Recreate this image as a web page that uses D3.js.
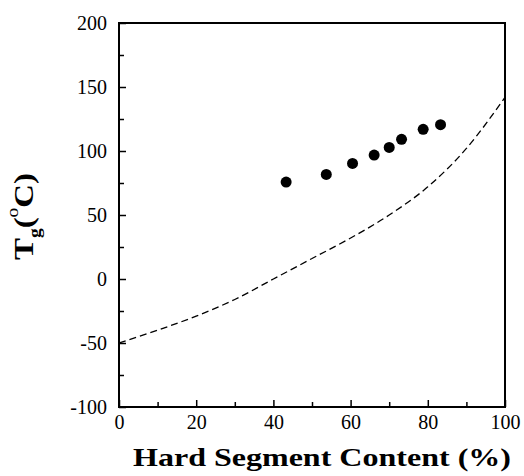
<!DOCTYPE html>
<html>
<head>
<meta charset="utf-8">
<script src="https://cdn.jsdelivr.net/npm/d3@7"></script>
<style>
  body { margin: 0; background: #fff; }
  svg { display: block; }
</style>
</head>
<body>
<div id="chart"></div>
<script>
// measured Tg of the samples
const hardContent = [43.3, 53.7, 60.5, 66.1, 70.0, 73.2, 78.8, 83.3];
const tgMeasured  = [75.7, 81.7, 90.3, 96.8, 102.8, 109.1, 116.9, 120.6];

// predicted curve (dashed)
const curveX = [0, 10, 20, 30, 40, 50, 60, 70, 80, 90, 100];
const curveY = [-50, -40, -29, -16, 0, 16, 32, 50, 72, 102, 142];

const xMajor = [0, 20, 40, 60, 80, 100];
const xMinor = [10, 30, 50, 70, 90];
const yMajor = [-100, -50, 0, 50, 100, 150, 200];
const yMinor = [-75, -25, 25, 75, 125, 175];

const width = 524, height = 476;
const margin = { top: 23, right: 19, bottom: 69, left: 119 };
const serif = "Liberation Serif, serif";

const svg = d3.select("#chart").append("svg")
    .attr("width", width)
    .attr("height", height)
    .attr("font-family", serif);

const x = d3.scaleLinear().domain([0, 100]).range([margin.left, width - margin.right]);
const y = d3.scaleLinear().domain([-100, 200]).range([height - margin.bottom, margin.top]);

// axis sets its own sans font, put ours back and drop the domain line
function clean(g) {
    g.attr("font-family", serif).attr("font-size", null);
    g.select(".domain").remove();
}

// minor ticks (no labels)
svg.append("g")
    .attr("transform", `translate(0,${y(-100)})`)
    .call(d3.axisBottom(x).tickValues(xMinor).tickSize(-5).tickFormat(""))
    .call(clean);

svg.append("g")
    .attr("transform", `translate(${x(0)},0)`)
    .call(d3.axisLeft(y).tickValues(yMinor).tickSize(-5).tickFormat(""))
    .call(clean);

// major ticks with labels
svg.append("g")
    .attr("transform", `translate(0,${y(-100)})`)
    .call(d3.axisBottom(x).tickValues(xMajor).tickSize(-7).tickPadding(8).tickFormat(d => String(d)))
    .call(clean);

svg.append("g")
    .attr("transform", `translate(${x(0)},0)`)
    .call(d3.axisLeft(y).tickValues(yMajor).tickSize(-7).tickPadding(12).tickFormat(d => String(d)))
    .call(clean);

svg.selectAll(".tick line").attr("stroke", "#000").attr("stroke-width", 1.5);
svg.selectAll(".tick text")
    .attr("font-family", serif)
    .attr("font-size", 20)
    .attr("fill", "#000");

// frame
svg.append("rect")
    .attr("x", x(0))
    .attr("y", y(200))
    .attr("width", x(100) - x(0))
    .attr("height", y(-100) - y(200))
    .attr("fill", "none")
    .attr("stroke", "#000")
    .attr("stroke-width", 2);

// dashed curve
const line = d3.line()
    .x((d, i) => x(curveX[i]))
    .y(d => y(d))
    .curve(d3.curveMonotoneX);

svg.append("path")
    .datum(curveY)
    .attr("d", line)
    .attr("fill", "none")
    .attr("stroke", "#000")
    .attr("stroke-width", 1.3)
    .attr("stroke-dasharray", "7,4");

// data points
svg.append("g")
    .selectAll("circle")
    .data(tgMeasured)
    .join("circle")
    .attr("cx", (d, i) => x(hardContent[i]))
    .attr("cy", d => y(d))
    .attr("r", 5.5)
    .attr("fill", "#000");

// x label
svg.append("text")
    .attr("x", 322)
    .attr("y", 466)
    .attr("text-anchor", "middle")
    .attr("font-size", 25)
    .attr("font-weight", "bold")
    .attr("textLength", 378)
    .attr("lengthAdjust", "spacingAndGlyphs")
    .text("Hard Segment Content (%)");

// y label: T_g (°C)
const yl = svg.append("text")
    .attr("transform", "translate(33,260) rotate(-90)")
    .attr("text-anchor", "start")
    .attr("font-size", 27)
    .attr("font-weight", "bold")
    .attr("textLength", 87)
    .attr("lengthAdjust", "spacingAndGlyphs");
yl.append("tspan").text("T");
yl.append("tspan").attr("dy", 7).attr("font-size", 16).text("g");
yl.append("tspan").attr("dy", -7).text("(");
yl.append("tspan").attr("dy", -15).attr("font-size", 16).attr("font-weight", "normal").text("o");
yl.append("tspan").attr("dy", 15).text("C)");
</script>
</body>
</html>
